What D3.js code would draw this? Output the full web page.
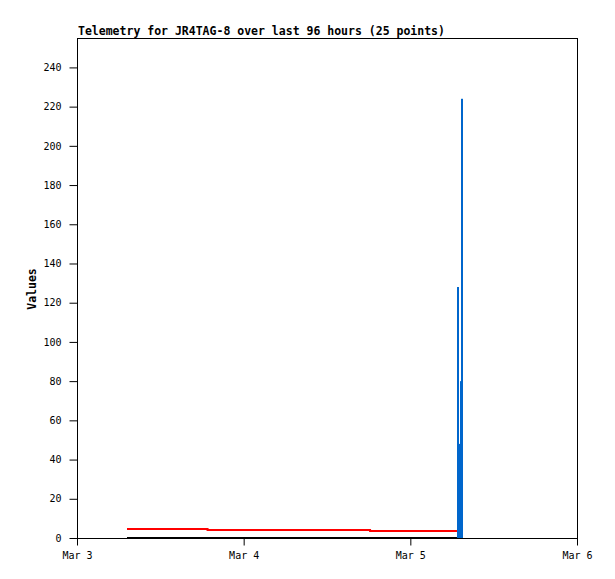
<!DOCTYPE html>
<html><head><meta charset="utf-8">
<script src="https://cdn.jsdelivr.net/npm/d3@7"></script>
<style>body{margin:0;background:#fff}svg{display:block}</style>
</head><body>
<script>
// Data (UTC times)
const xTickLabels = ["Mar 3", "Mar 4", "Mar 5", "Mar 6"];
const yTickValues = [0, 20, 40, 60, 80, 100, 120, 140, 160, 180, 200, 220, 240];
const redTimes = ["2024-03-03T07:12Z", "2024-03-03T18:48Z", "2024-03-04T18:12Z", "2024-03-05T06:43Z"];
const redValues = [4.6, 4.1, 3.6, 3.6];
const blackTimes = ["2024-03-03T07:12Z", "2024-03-05T06:43Z"];
const blackValues = [0, 0];
const blueTimes = ["2024-03-05T06:43Z", "2024-03-05T07:01Z", "2024-03-05T07:09Z", "2024-03-05T07:18Z"];
const blueValues = [128, 48, 80, 224];

const W = 615, H = 579;
const m = {left: 77, top: 38, right: 38, bottom: 41};
const iw = W - m.left - m.right, ih = H - m.top - m.bottom;
const svg = d3.select("body").append("svg").attr("width", W).attr("height", H);
const font = "'DejaVu Sans Mono', monospace";

const x = d3.scaleUtc().domain([new Date("2024-03-03T00:00Z"), new Date("2024-03-06T00:00Z")]).range([0, iw]);
const y = d3.scaleLinear().domain([0, 255]).range([ih, 0]);
const g = svg.append("g").attr("transform", `translate(${m.left},${m.top})`);

// frame
g.append("rect").attr("x", 0.5).attr("y", 0.5).attr("width", iw).attr("height", ih)
  .attr("fill", "none").attr("stroke", "#000").attr("stroke-width", 1);

// series
const pts = (ts, vs) => ts.map((t, i) => [new Date(t), vs[i]]);
const line = d3.line().x(d => x(d[0])).y(d => y(d[1])).curve(d3.curveStepAfter);
g.append("path").datum(pts(blackTimes, blackValues)).attr("d", line)
  .attr("fill", "none").attr("stroke", "#000").attr("stroke-width", 2);
g.append("path").datum(pts(redTimes, redValues)).attr("d", line)
  .attr("fill", "none").attr("stroke", "#ff0000").attr("stroke-width", 2);
g.selectAll("rect.blue").data(pts(blueTimes, blueValues)).join("rect")
  .attr("class", "blue")
  .attr("x", d => Math.round(x(d[0])) - m.left + m.left)
  .attr("width", 2)
  .attr("y", d => y(d[1]))
  .attr("height", d => y(0) - y(d[1]))
  .attr("fill", "#0066cc");

// axes
const xAxis = d3.axisBottom(x).tickValues(xTickLabels.map((_, i) => new Date(Date.UTC(2024, 2, 3 + i))))
  .tickFormat((d, i) => xTickLabels[i]).tickSize(7).tickPadding(6);
const gx = g.append("g").attr("transform", `translate(0,${ih + 0.5})`).call(xAxis);
gx.select(".domain").remove();
gx.selectAll("text").attr("font-family", font).attr("font-size", 10).attr("fill", "#000");

const yAxis = d3.axisLeft(y).tickValues(yTickValues).tickSize(8).tickPadding(8);
const gy = g.append("g").attr("transform", "translate(0.5,0)").call(yAxis);
gy.select(".domain").remove();
gy.selectAll("text").attr("font-family", font).attr("font-size", 10).attr("fill", "#000");

// title & label
svg.append("text").attr("x", 78).attr("y", 35).attr("font-family", font).attr("font-size", 11.5)
  .attr("font-weight", "bold").text("Telemetry for JR4TAG-8 over last 96 hours (25 points)");
svg.append("text").attr("transform", "translate(36,289) rotate(-90)").attr("text-anchor", "middle")
  .attr("font-family", font).attr("font-size", 11.5).attr("font-weight", "bold").text("Values");
</script>
</body></html>
